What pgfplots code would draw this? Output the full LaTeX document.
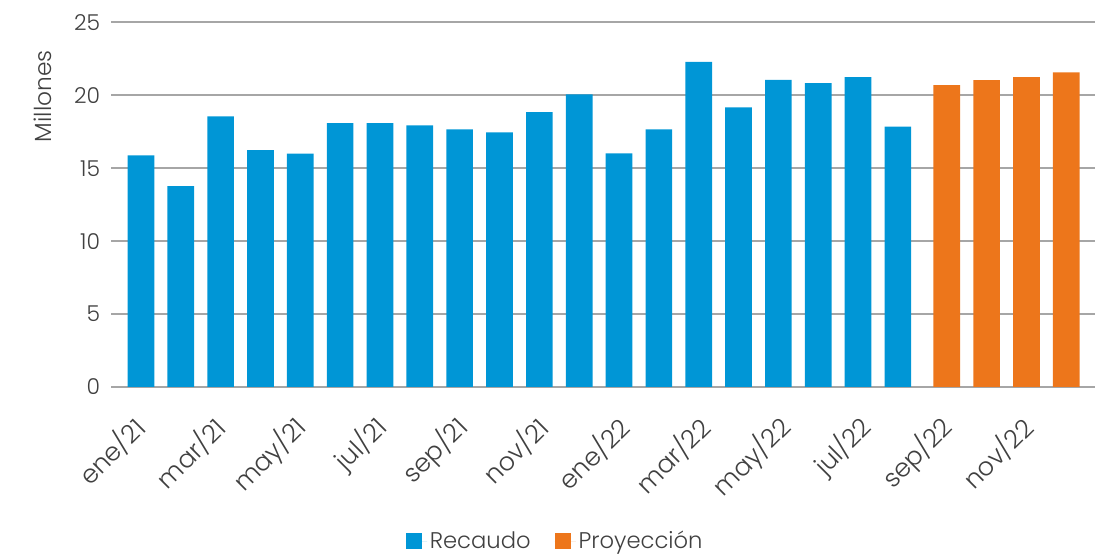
\documentclass[border=0pt]{standalone}
\usepackage{fontspec}
\setmainfont{Poppins Light}
\usepackage{pgfplots}
\pgfplotsset{compat=1.18}
\definecolor{recblue}{HTML}{0096D6}
\definecolor{proyorange}{HTML}{ED761B}
\definecolor{gridgray}{HTML}{A6A6A6}
\definecolor{txtgray}{HTML}{404040}
\begin{document}
\begin{tikzpicture}
\begin{axis}[
  at={(83.25pt,126.75pt)}, anchor=south west,
  scale only axis, width=738pt, height=273.4pt,
  xmin=-0.753, xmax=23.95, ymin=0, ymax=25,
  ytick={0,5,10,15,20,25},
  /pgf/number format/assume math mode=true,
  ymajorgrids, major grid style={gridgray, line width=1.5pt},
  axis line style={draw=none},
  xtick={-0.01,2.017,4.043,6.07,8.096,10.123,12.15,14.176,16.203,18.229,20.256,22.283},
  xticklabels={ene/21,mar/21,may/21,jul/21,sep/21,nov/21,ene/22,mar/22,may/22,jul/22,sep/22,nov/22},
  major tick length=0pt,
  tick label style={font=\fontsize{16.4}{19}\selectfont, text=txtgray},
  xticklabel style={font=\fontsize{19}{22}\selectfont, yshift=-26.75pt, rotate=45, anchor=east, inner sep=0pt},
  yticklabel style={anchor=east, inner sep=0pt, xshift=-8pt},
  every axis y label/.style={at={(axis description cs:-0.0691,0.798)}, rotate=90, anchor=center, font=\fontsize{17.5}{20}\selectfont, text=txtgray},
  ylabel={Millones},
  legend style={at={(axis description cs:0.4517,-0.4225)}, anchor=center, draw=none, fill=none,
    legend columns=2, font=\fontsize{17}{20}\selectfont, text=txtgray,
    /tikz/every even column/.append style={column sep=16pt}},
  legend cell align=left,
]
\addplot[ybar, bar width=20pt, bar shift=0pt, fill=recblue, draw=none,
  legend image code/.code={\fill[recblue] (0pt,-6pt) rectangle (12pt,6pt);\path (0pt,0pt) -- (16pt,0pt);}]
  coordinates {(0,15.88)(1,13.78)(2,18.56)(3,16.25)(4,16.0)(5,18.10)(6,18.10)(7,17.94)(8,17.66)(9,17.46)(10,18.85)(11,20.06)(12,16.02)(13,17.66)(14,22.30)(15,19.17)(16,21.07)(17,20.84)(18,21.25)(19,17.85)};
\addlegendentry{Recaudo}
\addplot[ybar, bar width=20pt, bar shift=0pt, fill=proyorange, draw=none,
  legend image code/.code={\fill[proyorange] (0pt,-6pt) rectangle (12pt,6pt);\path (0pt,0pt) -- (16pt,0pt);}]
  coordinates {(20.228,20.70)(21.228,21.05)(22.228,21.25)(23.228,21.57)};
\addlegendentry{Proyección}
\end{axis}
\pgfresetboundingbox
\useasboundingbox (0,0) rectangle (828.75pt,417pt);
\end{tikzpicture}
\end{document}
